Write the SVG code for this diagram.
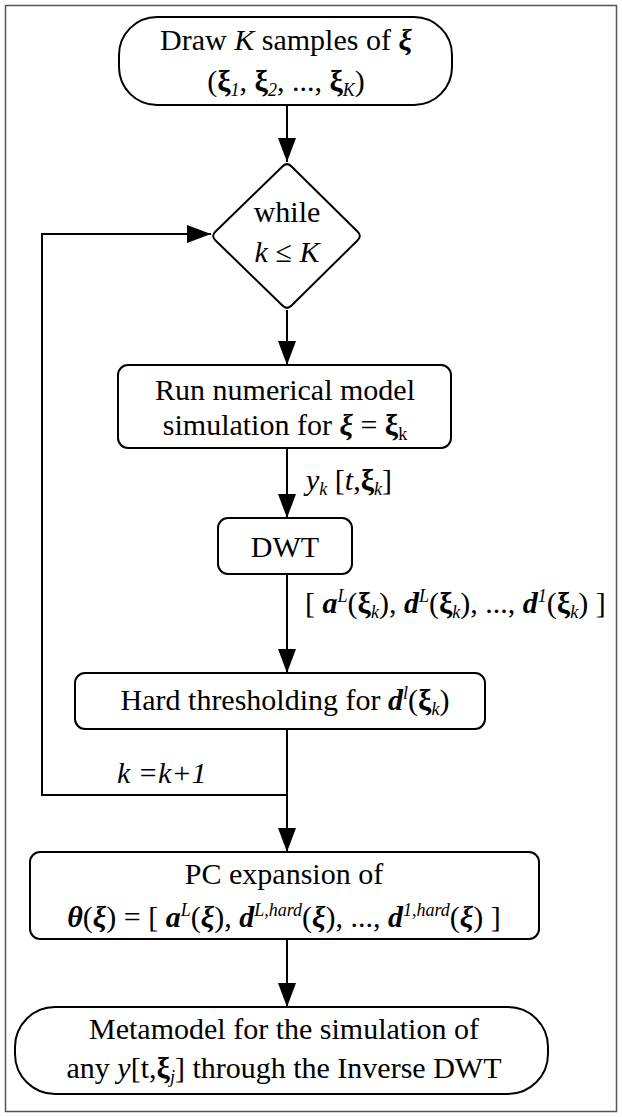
<svg xmlns="http://www.w3.org/2000/svg" width="622" height="1117" viewBox="0 0 622 1117">
<style>
.box{fill:#fff;stroke:#000;stroke-width:2}
.ln{fill:none;stroke:#000;stroke-width:2}
text{font-family:"Liberation Serif","Times New Roman",serif;font-size:30px;fill:#000}
.c{text-anchor:middle}
.i{font-style:italic}
.b{font-weight:bold}
.bi{font-weight:bold;font-style:italic}
.s{font-size:18px}
</style>
<defs>
<marker id="ah" markerUnits="userSpaceOnUse" markerWidth="24" markerHeight="18" refX="24" refY="9" orient="auto">
<path d="M0,0 L24,9 L0,18 Z" fill="#000"/>
</marker>
</defs>
<rect x="5.5" y="5.5" width="611" height="1106" fill="#fff" stroke="#555" stroke-width="1.5"/>

<g id="connectors">
<line class="ln" x1="287" y1="105" x2="287" y2="162" marker-end="url(#ah)"/>
<line class="ln" x1="287" y1="310" x2="287" y2="365" marker-end="url(#ah)"/>
<line class="ln" x1="287" y1="448" x2="287" y2="518" marker-end="url(#ah)"/>
<line class="ln" x1="287" y1="574" x2="287" y2="673" marker-end="url(#ah)"/>
<line class="ln" x1="287" y1="729" x2="287" y2="852" marker-end="url(#ah)"/>
<polyline class="ln" points="287,795 42,795 42,234 211,234" marker-end="url(#ah)"/>
<line class="ln" x1="287" y1="939" x2="287" y2="1007" marker-end="url(#ah)"/>
<text x="306" y="490"><tspan class="i">y</tspan><tspan class="i s" dy="5">k</tspan><tspan dy="-5"> [</tspan><tspan class="i">t</tspan>,<tspan class="b">ξ</tspan><tspan class="i s" dy="5">k</tspan><tspan dy="-5">]</tspan></text>
<text x="305" y="613">[ <tspan class="bi">a</tspan><tspan class="i s" dy="-11">L</tspan><tspan dy="11">(</tspan><tspan class="b">ξ</tspan><tspan class="i s" dy="5">k</tspan><tspan dy="-5">), </tspan><tspan class="bi">d</tspan><tspan class="i s" dy="-11">L</tspan><tspan dy="11">(</tspan><tspan class="b">ξ</tspan><tspan class="i s" dy="5">k</tspan><tspan dy="-5">), ..., </tspan><tspan class="bi">d</tspan><tspan class="i s" dy="-11">1</tspan><tspan dy="11">(</tspan><tspan class="b">ξ</tspan><tspan class="i s" dy="5">k</tspan><tspan dy="-5">) ]</tspan></text>
<text x="117" y="783" class="i">k =k+1</text>
</g>

<g id="start">
<rect class="box" x="119" y="17" width="333" height="88" rx="38" ry="38"/>
<text class="c" x="286" y="50">Draw <tspan class="i">K</tspan> samples of <tspan class="bi">ξ</tspan></text>
<text class="c" x="286" y="91">(<tspan class="b">ξ</tspan><tspan class="i s" dy="5">1</tspan><tspan dy="-5">, </tspan><tspan class="b">ξ</tspan><tspan class="i s" dy="5">2</tspan><tspan dy="-5">, ..., </tspan><tspan class="b">ξ</tspan><tspan class="i s" dy="5">K</tspan><tspan dy="-5">)</tspan></text>
</g>

<g id="while">
<path class="box" d="M291.3,166.2 L357.7,231.8 Q362,236 357.7,240.2 L291.3,305.8 Q287,310 282.7,305.8 L215.3,240.2 Q211,236 215.3,231.8 L282.7,166.2 Q287,162 291.3,166.2 Z"/>
<text class="c" x="287" y="222">while</text>
<text class="c" x="287" y="262"><tspan class="i">k</tspan> ≤ <tspan class="i">K</tspan></text>
</g>

<g id="run">
<rect class="box" x="118" y="365" width="333" height="83" rx="10" ry="10"/>
<text class="c" x="285" y="400">Run numerical model</text>
<text class="c" x="285" y="435">simulation for <tspan class="bi">ξ</tspan> = <tspan class="b">ξ</tspan><tspan class="s" dy="5">k</tspan></text>
</g>

<g id="dwt">
<rect class="box" x="218" y="518" width="134" height="56" rx="10" ry="10"/>
<text class="c" x="285" y="557">DWT</text>
</g>

<g id="hard">
<rect class="box" x="75" y="673" width="410" height="56" rx="10" ry="10"/>
<text class="c" x="285" y="710">Hard thresholding for <tspan class="bi">d</tspan><tspan class="i s" dy="-11">l</tspan><tspan dy="11">(</tspan><tspan class="b">ξ</tspan><tspan class="i s" dy="5">k</tspan><tspan dy="-5">)</tspan></text>
</g>

<g id="pc">
<rect class="box" x="30" y="852" width="509" height="87" rx="10" ry="10"/>
<text class="c" x="284" y="884">PC expansion of</text>
<text class="c" x="284" y="927"><tspan class="bi">θ</tspan>(<tspan class="bi">ξ</tspan>) = [ <tspan class="bi">a</tspan><tspan class="i s" dy="-11">L</tspan><tspan dy="11">(</tspan><tspan class="bi">ξ</tspan>), <tspan class="bi">d</tspan><tspan class="i s" dy="-11">L,hard</tspan><tspan dy="11">(</tspan><tspan class="bi">ξ</tspan>), ..., <tspan class="bi">d</tspan><tspan class="i s" dy="-11">1,hard</tspan><tspan dy="11">(</tspan><tspan class="bi">ξ</tspan>) ]</text>
</g>

<g id="metamodel">
<rect class="box" x="15" y="1007" width="533" height="87" rx="40" ry="40"/>
<text class="c" x="284" y="1039">Metamodel for the simulation of</text>
<text class="c" x="284" y="1078">any <tspan class="i">y</tspan>[t,<tspan class="b">ξ</tspan><tspan class="i s" dy="5">j</tspan><tspan dy="-5">] through the Inverse DWT</tspan></text>
</g>
</svg>
